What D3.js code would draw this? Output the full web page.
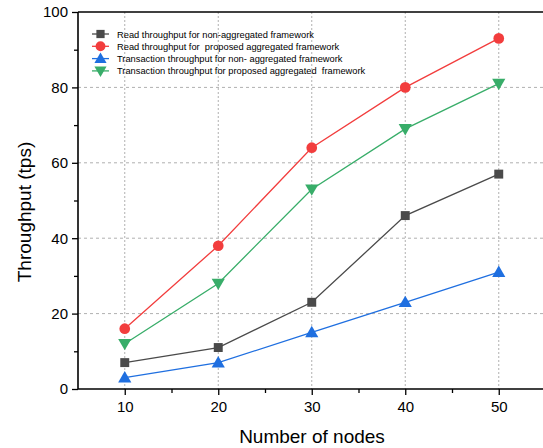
<!DOCTYPE html>
<html><head><meta charset="utf-8">
<script src="https://cdn.jsdelivr.net/npm/d3@7"></script>
<style>body{margin:0;background:#fff}svg{display:block;font-family:Arial,"Liberation Sans",sans-serif}</style>
</head><body><svg id="c" width="543" height="448"></svg>
<script>
const nodes = [10, 20, 30, 40, 50];
const readNonAgg = [7, 11, 23, 46, 57];
const readProposed = [16, 38, 64, 80, 93];
const txNonAgg = [3, 7, 15, 23, 31];
const txProposed = [12, 28, 53, 69, 81];
const seriesNames = [
  "Read throughput for non-aggregated framework",
  "Read throughput for  proposed aggregated framework",
  "Transaction throughput for non- aggregated framework",
  "Transaction throughput for proposed aggregated  framework"
];
const xTicks = [10, 20, 30, 40, 50];
const yTicks = [0, 20, 40, 60, 80, 100];

const series = [
  {name: seriesNames[0], values: readNonAgg, color: "#4a4a4a", sym: d3.symbolSquare, size: 80, rot: 0},
  {name: seriesNames[1], values: readProposed, color: "#f23d3d", sym: d3.symbolCircle, size: 90, rot: 0},
  {name: seriesNames[2], values: txNonAgg, color: "#1f6fe0", sym: d3.symbolTriangle, size: 75, rot: 0},
  {name: seriesNames[3], values: txProposed, color: "#38ad69", sym: d3.symbolTriangle, size: 75, rot: 180}
];

const svg = d3.select("#c");
const L = 78, T = 12, R = 545.5, B = 389;
const x = d3.scaleLinear().domain([5, 55]).range([L, R]);
const y = d3.scaleLinear().domain([0, 100]).range([B, T]);

// grid
const g = svg.append("g");
g.selectAll(".vg").data(xTicks).join("line")
  .attr("x1", d => x(d)).attr("x2", d => x(d)).attr("y1", T).attr("y2", B)
  .attr("stroke", "#b0b0b0").attr("stroke-width", 1).attr("stroke-dasharray", "2,2");
g.selectAll(".hg").data(yTicks.filter(d => d > 0 && d < 100)).join("line")
  .attr("x1", L).attr("x2", R).attr("y1", d => y(d)).attr("y2", d => y(d))
  .attr("stroke", "#b0b0b0").attr("stroke-width", 1).attr("stroke-dasharray", "3,3");

// axes
const xAxis = d3.axisBottom(x).tickValues(xTicks).tickSize(6).tickPadding(6).tickFormat(d3.format("d"));
const xMinor = d3.axisBottom(x).tickValues([15, 25, 35, 45]).tickSize(4).tickFormat("");
const yAxis = d3.axisLeft(y).tickValues(yTicks).tickSize(6).tickPadding(4).tickFormat(d3.format("d"));
const yMinor = d3.axisLeft(y).tickValues([10, 30, 50, 70, 90]).tickSize(4).tickFormat("");

function styleAxis(sel) {
  sel.select(".domain").remove();
  sel.selectAll("line").attr("stroke", "#000").attr("stroke-width", 1.3);
  sel.selectAll("text").attr("fill", "#000").style("font-size", "15px").style("font-family", "Arial, 'Liberation Sans', sans-serif");
}
svg.append("g").attr("transform", `translate(0,${B})`).call(xAxis).call(styleAxis);
svg.append("g").attr("transform", `translate(0,${B})`).call(xMinor).call(styleAxis);
svg.append("g").attr("transform", `translate(${L},0)`).call(yAxis).call(styleAxis);
svg.append("g").attr("transform", `translate(${L},0)`).call(yMinor).call(styleAxis);

// frame
svg.append("line").attr("x1", L).attr("x2", R).attr("y1", B).attr("y2", B).attr("stroke", "#000").attr("stroke-width", 1.6);
svg.append("line").attr("x1", L).attr("x2", R).attr("y1", T).attr("y2", T).attr("stroke", "#000").attr("stroke-width", 1.6);
svg.append("line").attr("x1", L).attr("x2", L).attr("y1", T).attr("y2", B).attr("stroke", "#000").attr("stroke-width", 1.6);

// lines & markers
const line = d3.line().x((d, i) => x(nodes[i])).y(d => y(d));
series.forEach(s => {
  svg.append("path").attr("d", line(s.values)).attr("fill", "none").attr("stroke", s.color).attr("stroke-width", 1.3);
  svg.selectAll(null).data(s.values).join("path")
    .attr("d", d3.symbol().type(s.sym).size(s.size))
    .attr("transform", (d, i) => `translate(${x(nodes[i])},${y(d) + (s.sym === d3.symbolTriangle ? (s.rot ? -1 : 1) : 0)}) rotate(${s.rot})`)
    .attr("fill", s.color);
});

// legend
const lg = svg.append("g").attr("transform", "translate(92,34)");
series.forEach((s, i) => {
  const row = lg.append("g").attr("transform", `translate(0,${i * 12.3})`);
  row.append("line").attr("x1", 0).attr("x2", 17).attr("stroke", s.color).attr("stroke-width", 1.3);
  row.append("path").attr("d", d3.symbol().type(s.sym).size(s.size * 0.85))
    .attr("transform", `translate(8.5,${s.sym === d3.symbolTriangle ? (s.rot ? -1 : 1) : 0}) rotate(${s.rot})`).attr("fill", s.color);
  row.append("text").attr("x", 25).attr("y", 3.5).text(s.name)
    .style("font-size", "9.3px").style("white-space", "pre").attr("fill", "#000");
});

// titles
svg.append("text").attr("x", 312).attr("y", 443).attr("text-anchor", "middle")
  .style("font-size", "19px").text("Number of nodes");
svg.append("text").attr("transform", "translate(31,212) rotate(-90)").attr("text-anchor", "middle")
  .style("font-size", "19px").text("Throughput (tps)");
</script></body></html>
